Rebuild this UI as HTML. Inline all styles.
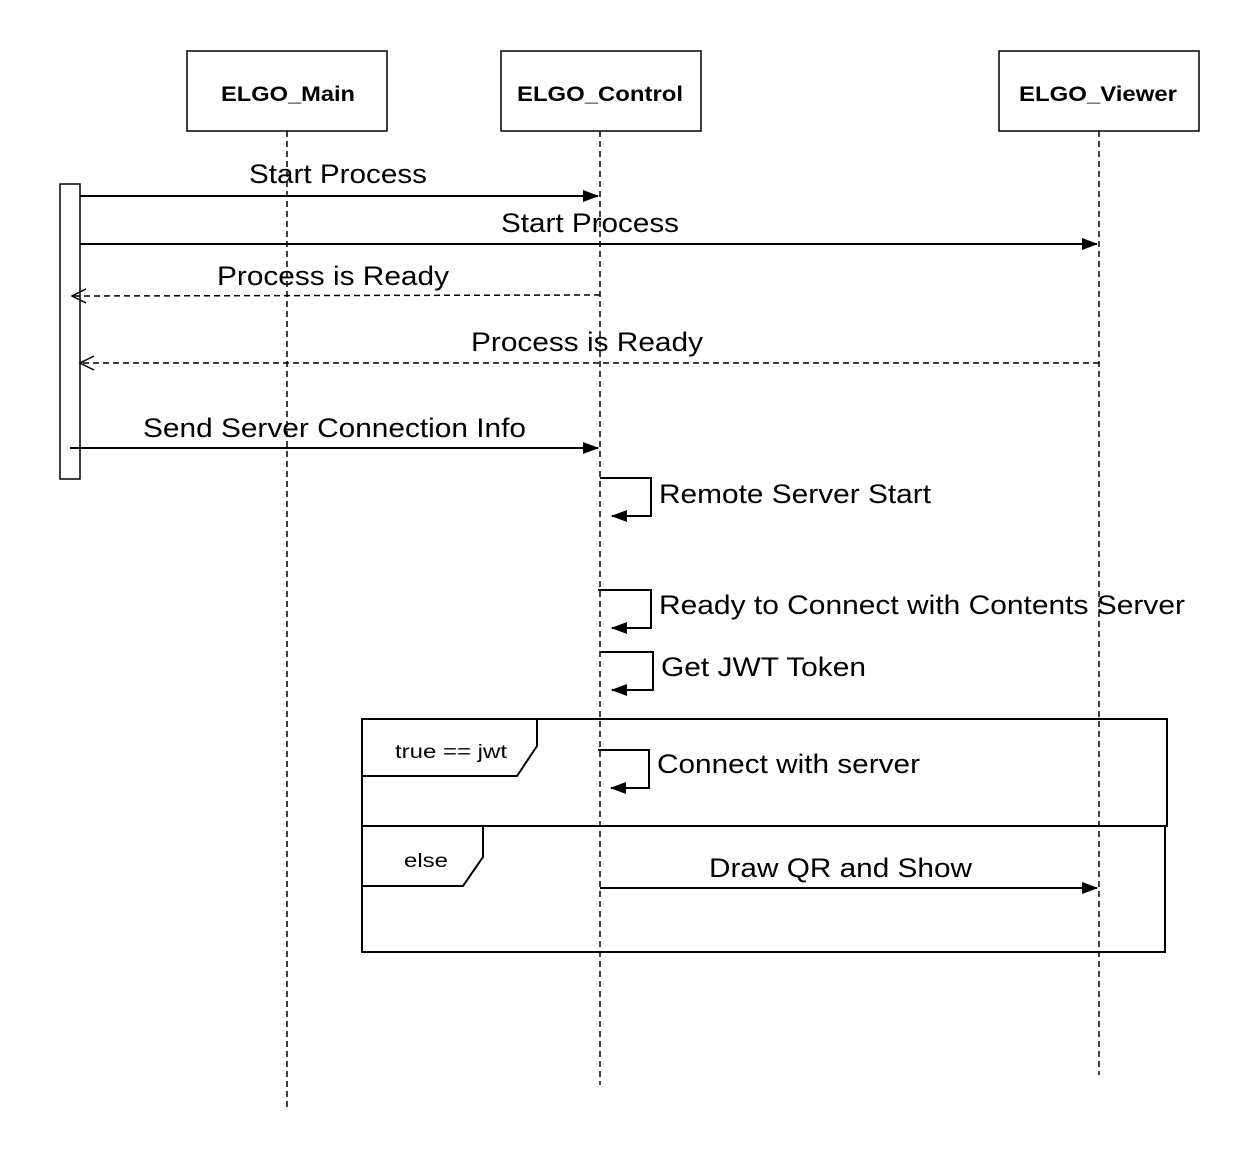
<!DOCTYPE html>
<html><head><style>body{margin:0;background:#fff}svg{display:block}text{font-family:"Liberation Sans",Arial,sans-serif;fill:#000}</style></head><body>
<svg width="1250" height="1158" viewBox="0 0 1250 1158" xmlns="http://www.w3.org/2000/svg">
<defs>
<marker id="f" markerWidth="16" markerHeight="12" refX="15" refY="6" orient="auto" markerUnits="userSpaceOnUse"><path d="M0,0 L16,6 L0,12 Z" fill="#000"/></marker>
<marker id="o" markerWidth="16" markerHeight="16" refX="15" refY="8" orient="auto" markerUnits="userSpaceOnUse"><path d="M1,1 L15,8 L1,15" fill="none" stroke="#000" stroke-width="1.5"/></marker>
</defs>
<g stroke="#000" stroke-width="1.5" stroke-dasharray="6,4" fill="none">
<line x1="287" y1="131" x2="287" y2="1107"/>
<line x1="600" y1="131" x2="600" y2="1085"/>
<line x1="1099" y1="131" x2="1099" y2="1075"/>
</g>
<g fill="#fff" stroke="#000" stroke-width="1.5">
<rect x="187" y="51" width="200" height="80"/>
<rect x="501" y="51" width="200" height="80"/>
<rect x="999" y="51" width="200" height="80"/>
<rect x="60" y="184" width="20" height="295"/>
</g>
<g font-weight="bold" font-size="21" lengthAdjust="spacingAndGlyphs">
<text x="221" y="101" textLength="134" lengthAdjust="spacingAndGlyphs">ELGO_Main</text>
<text x="517" y="101" textLength="166" lengthAdjust="spacingAndGlyphs">ELGO_Control</text>
<text x="1019" y="101" textLength="158" lengthAdjust="spacingAndGlyphs">ELGO_Viewer</text>
</g>
<g stroke="#000" stroke-width="2" fill="none">
<line x1="80" y1="196" x2="598" y2="196" marker-end="url(#f)"/>
<line x1="80" y1="244" x2="1097" y2="244" marker-end="url(#f)"/>
<line x1="600" y1="295" x2="72" y2="296" stroke-dasharray="6,4" stroke-width="1.5" marker-end="url(#o)"/>
<line x1="1099" y1="363" x2="80" y2="363" stroke-dasharray="6,4" stroke-width="1.5" marker-end="url(#o)"/>
<line x1="70" y1="448" x2="598" y2="448" marker-end="url(#f)"/>
<polyline points="600,478 651,478 651,516 612,516" marker-end="url(#f)"/>
<polyline points="598,590 651,590 651,628 612,628" marker-end="url(#f)"/>
<polyline points="600,652 653,652 653,690 612,690" marker-end="url(#f)"/>
<polyline points="598,750 649,750 649,788 611,788" marker-end="url(#f)"/>
<line x1="600" y1="888" x2="1097" y2="888" marker-end="url(#f)"/>
</g>
<g stroke="#000" stroke-width="2" fill="none">
<rect x="362" y="719" width="805" height="107"/>
<rect x="362" y="826" width="803" height="126"/>
<polyline points="537,719 537,746 517,776 362,776"/>
<polyline points="483,826 483,857 463,886 362,886"/>
</g>
<g font-size="27">
<text x="249" y="183" textLength="178" lengthAdjust="spacingAndGlyphs">Start Process</text>
<text x="501" y="232" textLength="178" lengthAdjust="spacingAndGlyphs">Start Process</text>
<text x="217" y="285" textLength="232" lengthAdjust="spacingAndGlyphs">Process is Ready</text>
<text x="471" y="351" textLength="232" lengthAdjust="spacingAndGlyphs">Process is Ready</text>
<text x="143" y="437" textLength="383" lengthAdjust="spacingAndGlyphs">Send Server Connection Info</text>
<text x="659" y="503" textLength="272" lengthAdjust="spacingAndGlyphs">Remote Server Start</text>
<text x="659" y="614" textLength="526" lengthAdjust="spacingAndGlyphs">Ready to Connect with Contents Server</text>
<text x="661" y="676" textLength="205" lengthAdjust="spacingAndGlyphs">Get JWT Token</text>
<text x="657" y="773" textLength="263" lengthAdjust="spacingAndGlyphs">Connect with server</text>
<text x="709" y="877" textLength="263" lengthAdjust="spacingAndGlyphs">Draw QR and Show</text>
</g>
<g font-size="19">
<text x="395" y="758" textLength="112" lengthAdjust="spacingAndGlyphs">true == jwt</text>
<text x="404" y="867" textLength="44" lengthAdjust="spacingAndGlyphs">else</text>
</g>
</svg>
</body></html>
